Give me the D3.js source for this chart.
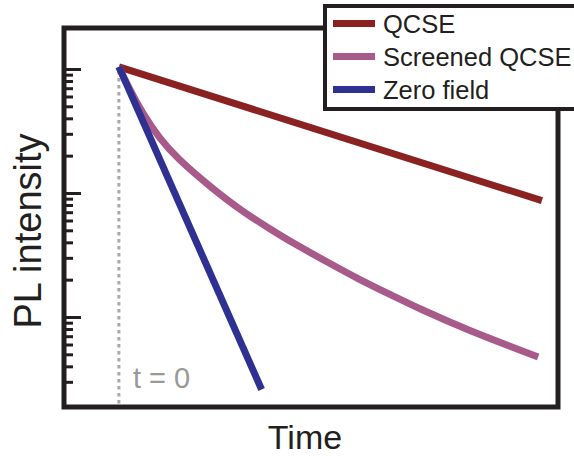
<!DOCTYPE html>
<html>
<head>
<meta charset="utf-8">
<script src="https://cdn.jsdelivr.net/npm/d3@7"></script>
<style>
  body { margin: 0; background: #fff; }
  svg { display: block; font-family: Helvetica, Arial, "Liberation Sans", sans-serif; }
</style>
</head>
<body>
<script>
// decay curves, time in arbitrary units, intensity on a log axis
const qcse = [[0, 104], [10.02, 8.67]];
const screened = [
  [0, 104], [0.26, 67.7], [0.57, 43.4], [0.97, 27.3], [1.37, 19.2],
  [2.16, 11.2], [2.94, 7.03], [3.58, 5.13], [4.12, 3.95], [4.93, 2.78],
  [5.71, 1.99], [6.49, 1.48], [7.13, 1.16], [8.25, 0.786], [9.93, 0.476]
];
const zeroField = [[0, 104], [3.38, 0.26]];

const seriesNames = ["QCSE", "Screened QCSE", "Zero field"];
const seriesColors = ["#8b2222", "#a85b8b", "#2e3192"];

const majorTicks = [1, 10, 100];
const minorTicks = [0.3, 0.4, 0.5, 0.6, 0.7, 0.8, 0.9,
  2, 3, 4, 5, 6, 7, 8, 9, 20, 30, 40, 50, 60, 70, 80, 90];

const width = 574;
const height = 459;
const plotLeft = 64, plotRight = 558, plotTop = 28, plotBottom = 407;
const ink = "#231f20";

const svg = d3.select("body")
  .append("svg")
  .attr("width", width)
  .attr("height", height);

const xScale = d3.scaleLinear()
  .domain([-1.3, 10.4])
  .range([plotLeft, plotRight]);

const yScale = d3.scaleLog()
  .domain([0.188, 214])
  .range([plotBottom, plotTop]);

// inward ticks on the left edge, no labels
const minorAxis = d3.axisRight(yScale).tickValues(minorTicks).tickSize(9).tickFormat("");
const majorAxis = d3.axisRight(yScale).tickValues(majorTicks).tickSize(17).tickFormat("");

[minorAxis, majorAxis].forEach((ax) => {
  const g = svg.append("g")
    .attr("transform", "translate(" + plotLeft + ",0)")
    .call(ax);
  g.select(".domain").remove();
  g.selectAll(".tick line")
    .attr("stroke", ink)
    .attr("stroke-width", 3);
});

// t = 0 marker
svg.append("line")
  .attr("x1", xScale(0))
  .attr("x2", xScale(0))
  .attr("y1", 71)
  .attr("y2", plotBottom)
  .attr("stroke", "#a7a9ac")
  .attr("stroke-width", 3)
  .attr("stroke-dasharray", "3.5,3.5");

svg.append("text")
  .attr("x", 133)
  .attr("y", 388)
  .attr("font-size", 29)
  .attr("fill", "#999999")
  .text("t = 0");

// basis curve smooths the screened decay
const line = d3.line()
  .x((d) => xScale(d[0]))
  .y((d) => yScale(d[1]))
  .curve(d3.curveBasis);

[qcse, screened, zeroField].forEach((data, i) => {
  svg.append("path")
    .datum(data)
    .attr("d", line)
    .attr("fill", "none")
    .attr("stroke", seriesColors[i])
    .attr("stroke-width", 7);
});

// plot frame
svg.append("rect")
  .attr("x", plotLeft)
  .attr("y", plotTop)
  .attr("width", plotRight - plotLeft)
  .attr("height", plotBottom - plotTop)
  .attr("fill", "none")
  .attr("stroke", ink)
  .attr("stroke-width", 5);

svg.append("text")
  .attr("transform", "translate(41," + 231 + ") rotate(-90)")
  .attr("text-anchor", "middle")
  .attr("font-size", 38)
  .attr("fill", ink)
  .text("PL intensity");

svg.append("text")
  .attr("x", 305)
  .attr("y", 449)
  .attr("text-anchor", "middle")
  .attr("font-size", 34)
  .attr("fill", ink)
  .text("Time");

// legend box runs off the right edge
const legend = svg.append("g");

legend.append("rect")
  .attr("x", 325)
  .attr("y", 6)
  .attr("width", 280)
  .attr("height", 103)
  .attr("fill", "#fff")
  .attr("stroke", ink)
  .attr("stroke-width", 4);

seriesNames.forEach((name, i) => {
  const cy = 23.5 + i * 33;
  legend.append("line")
    .attr("x1", 333)
    .attr("x2", 375)
    .attr("y1", cy)
    .attr("y2", cy)
    .attr("stroke", seriesColors[i])
    .attr("stroke-width", 7);
  legend.append("text")
    .attr("x", 383)
    .attr("y", cy + 9.5)
    .attr("font-size", 25.5)
    .attr("fill", ink)
    .text(name);
});
</script>
</body>
</html>
